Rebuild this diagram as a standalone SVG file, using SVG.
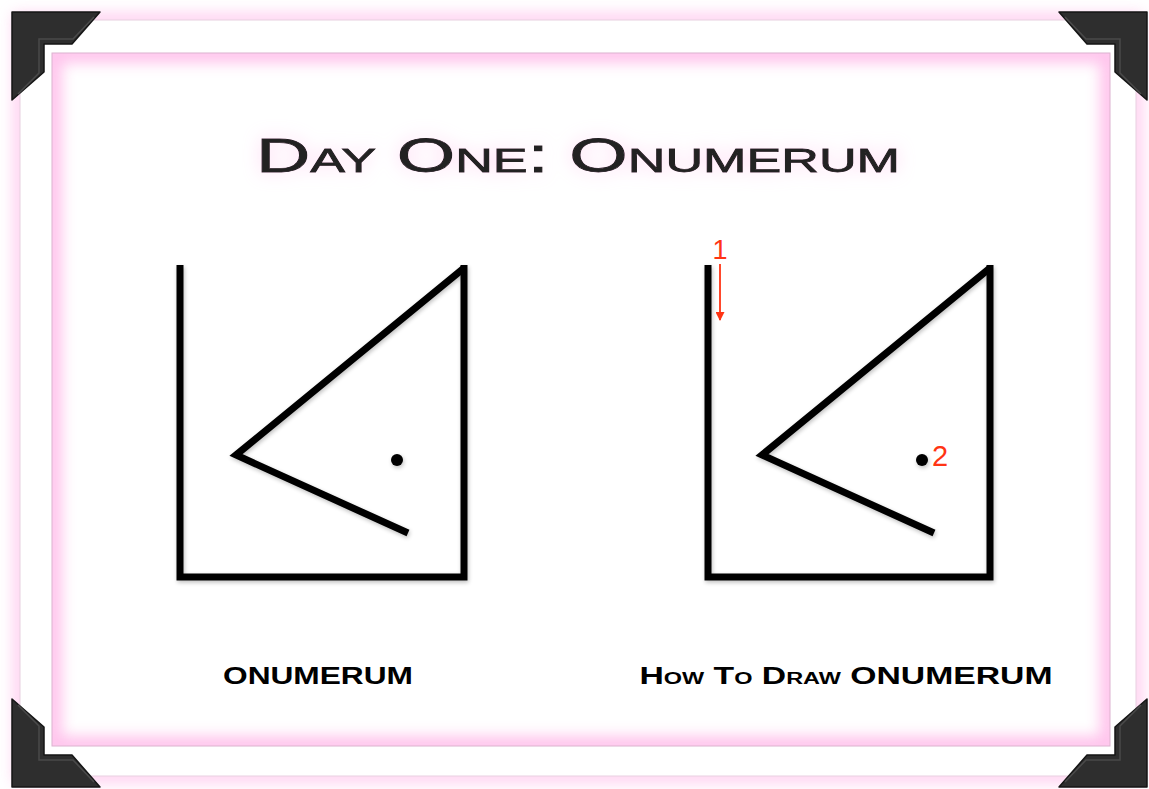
<svg xmlns="http://www.w3.org/2000/svg" width="1149" height="789" viewBox="0 0 1149 789">
<style>
.fig{fill:none;stroke:#000;stroke-width:7;stroke-linecap:butt;stroke-linejoin:miter}
.red{fill:#ff3414;font-family:"Liberation Sans",Arial,sans-serif}
.lbl{font-family:"Liberation Sans",Arial,sans-serif;font-weight:bold;fill:#000}
.brk{fill:#2e2e2e;stroke:#151515;stroke-width:1.5;stroke-linejoin:round}
.brkin{fill:none;stroke:#4a4a4a;stroke-width:1.5}
</style>
<defs>
<filter id="blur8" x="-20%" y="-20%" width="140%" height="140%"><feGaussianBlur stdDeviation="7"/></filter>
<filter id="blur6" x="-20%" y="-20%" width="140%" height="140%"><feGaussianBlur stdDeviation="7"/></filter>
<filter id="glow" x="-10%" y="-60%" width="120%" height="220%">
<feGaussianBlur in="SourceAlpha" stdDeviation="9" result="b"/>
<feFlood flood-color="#ffa8e4" flood-opacity="0.45"/>
<feComposite in2="b" operator="in" result="g"/>
<feMerge><feMergeNode in="g"/><feMergeNode in="SourceGraphic"/></feMerge>
</filter>
<filter id="shd" x="-20%" y="-20%" width="140%" height="140%">
<feGaussianBlur in="SourceAlpha" stdDeviation="2" result="b"/>
<feOffset dx="1" dy="2" in="b" result="o"/>
<feComponentTransfer in="o" result="o2"><feFuncA type="linear" slope="0.25"/></feComponentTransfer>
<feMerge><feMergeNode in="o2"/><feMergeNode in="SourceGraphic"/></feMerge>
</filter>
<clipPath id="innerClip"><rect x="52" y="53" width="1058" height="693"/></clipPath>
<marker id="arr" viewBox="0 0 10 10" refX="9" refY="5" markerWidth="10" markerHeight="9" orient="auto" markerUnits="userSpaceOnUse">
<path d="M0,0 L10,5 L0,10 z" fill="#ff3414"/>
</marker>
</defs>

<rect x="0" y="0" width="1149" height="789" fill="#fff"/>

<g id="frame">
<rect x="20" y="20" width="1116" height="756" fill="none" stroke="#ffc4ec" stroke-width="14" filter="url(#blur8)" opacity="0.8"/>
<rect x="20" y="20" width="1116" height="756" fill="#fff" stroke="#e8cfe0" stroke-width="1"/>
<rect x="52" y="53" width="1058" height="693" fill="#fff"/>
<g clip-path="url(#innerClip)">
<rect x="52" y="53" width="1058" height="693" fill="none" stroke="#ffb0e6" stroke-width="20" filter="url(#blur6)" opacity="0.75"/>
</g>
<rect x="52" y="53" width="1058" height="693" fill="none" stroke="#dcb2cf" stroke-width="1"/>
</g>

<g id="corners">
<g id="corner-tl">
<polygon class="brk" points="12,12 100,12 72,44 44,44 44,72 12,100"/>
<polyline class="brkin" points="18,94 39,73 39,39 73,39 94,17"/>
</g>
<g id="corner-tr">
<polygon class="brk" points="1147,12 1059,12 1087,44 1115,44 1115,72 1147,100"/>
<polyline class="brkin" points="1141,94 1120,73 1120,39 1086,39 1065,17"/>
</g>
<g id="corner-bl">
<polygon class="brk" points="12,787 100,787 72,755 44,755 44,727 12,699"/>
<polyline class="brkin" points="18,705 39,726 39,760 73,760 94,782"/>
</g>
<g id="corner-br">
<polygon class="brk" points="1147,787 1059,787 1087,755 1115,755 1115,727 1147,699"/>
<polyline class="brkin" points="1141,705 1120,726 1120,760 1086,760 1065,782"/>
</g>
</g>

<g id="title" filter="url(#glow)">
<text x="578" y="172" text-anchor="middle" font-family="'Liberation Sans',Arial,sans-serif" font-size="49" font-variant="small-caps" fill="#222" stroke="#222" stroke-width="0.8" textLength="644" lengthAdjust="spacingAndGlyphs">Day One: Onumerum</text>
</g>

<g id="glyph-onumerum" filter="url(#shd)">
<polyline class="fig" points="180,265 180,577 464,577 464,265"/>
<polyline class="fig" points="464,268 236,455 408,533"/>
<circle cx="397" cy="460" r="6" fill="#000"/>
</g>

<g id="glyph-how-to-draw" filter="url(#shd)">
<polyline class="fig" points="708,265 708,577 990,577 990,265"/>
<polyline class="fig" points="990,268 762,455 934,533"/>
<circle cx="922" cy="460" r="6" fill="#000"/>
</g>

<g id="step-labels">
<text class="red" x="720" y="259" text-anchor="middle" font-size="27">1</text>
<text class="red" x="940" y="466" text-anchor="middle" font-size="29">2</text>
</g>

<g id="connectors">
<line x1="720" y1="264" x2="720" y2="320" stroke="#ff3414" stroke-width="1.8" marker-end="url(#arr)"/>
</g>

<g id="captions">
<text class="lbl" x="318" y="684" text-anchor="middle" font-size="23" textLength="190" lengthAdjust="spacingAndGlyphs">ONUMERUM</text>
<text class="lbl" x="846" y="684" text-anchor="middle" font-size="23" font-variant="small-caps" textLength="413" lengthAdjust="spacingAndGlyphs">How To Draw ONUMERUM</text>
</g>
</svg>
